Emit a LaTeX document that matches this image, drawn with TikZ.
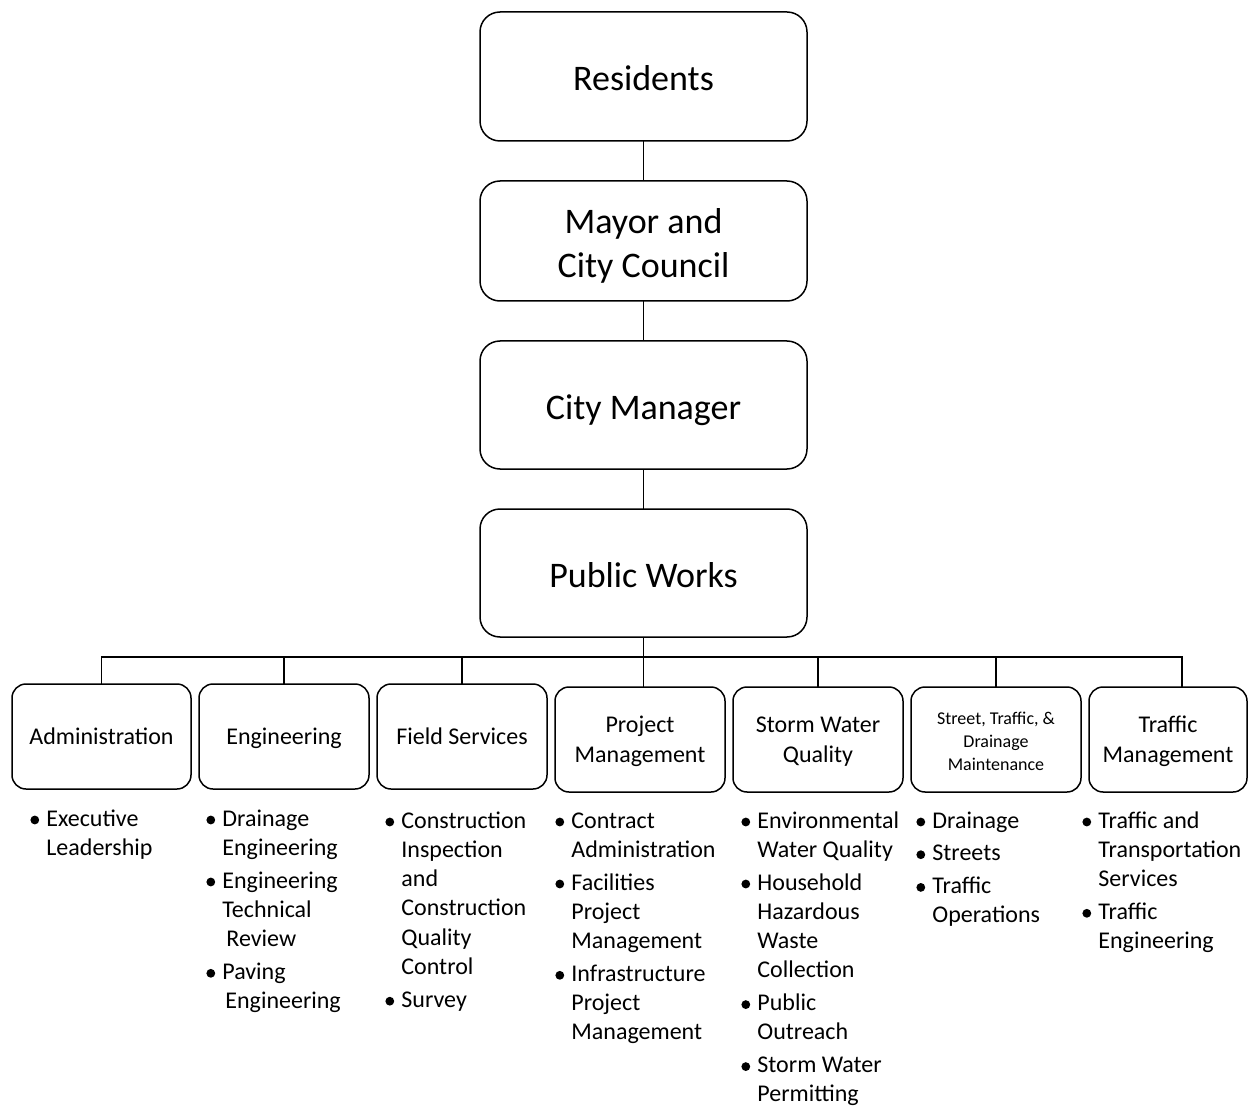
\documentclass[tikz,border=0pt]{standalone}
\usepackage{fontspec}
\setmainfont{Carlito}
\usetikzlibrary{positioning}

\newcommand{\bl}{\makebox[8pt][l]{\tikz[baseline=0pt]\fill (2.1pt,3pt) circle[radius=2.2pt];}}

\begin{document}
\begin{tikzpicture}[x=0.5pt, y=-0.5pt, node distance=20pt,
  topbox/.style={draw, line width=0.75pt, rounded corners=10pt, minimum width=163.5pt,
    text width=160pt, inner sep=0pt, outer sep=0pt, align=flush center,
    font=\fontsize{18}{22}\selectfont,
    execute at begin node={\rule{0pt}{18.5pt}},
    execute at end node={\rule[-4pt]{0pt}{4pt}}},
  unitbox/.style={draw, line width=0.75pt, rounded corners=7pt, minimum width=85pt,
    minimum height=52.5pt, text width=78pt, inner sep=0pt, outer sep=0pt, align=flush center,
    font=\fontsize{12}{14.65}\selectfont,
    execute at begin node={\rule{0pt}{10.6pt}},
    execute at end node={\rule[-2.6pt]{0pt}{2.6pt}}},
  duties/.style={anchor=base west, inner sep=0pt, font=\fontsize{12}{14.65}\selectfont},
  wire/.style={line width=0.75pt}]
  \useasboundingbox (0,0) rectangle (1248,1107);

  % chain of command
  \node[topbox, minimum height=64.5pt] (res) at (643.5,76.5) {Residents};
  \node[topbox, minimum height=60pt, below=of res] (may) {Mayor and\\City Council};
  \node[topbox, minimum height=64pt, below=of may] (cm) {City Manager};
  \node[topbox, minimum height=64pt, below=of cm] (pw) {Public Works};

  % divisions
  \node[unitbox, minimum width=89.5pt] (adm) at (101.5,736.5) {Administration};
  \node[unitbox, right=4pt of adm] (eng) {Engineering};
  \node[unitbox, right=4pt of eng] (fld) {Field Services};
  \node[unitbox, right=4pt of fld, yshift=-1.5pt] (pm) {Project\\Management};
  \node[unitbox, right=4pt of pm] (swq) {Storm Water\\Quality};
  \node[unitbox, right=4pt of swq, font=\fontsize{9}{11.5}\selectfont,
    execute at begin node={}, execute at end node={\rule[-3pt]{0pt}{3pt}}] (stm)
    {Street, Traffic, \&\\Drainage\\Maintenance};
  \node[unitbox, right=4pt of stm, minimum width=79pt] (trf) {Traffic\\Management};

  % connectors
  \coordinate[below=10pt of pw] (bus);
  \coordinate (trfdrop) at ([xshift=7pt]trf.north);
  \draw[wire] (res) -- (may);
  \draw[wire] (may) -- (cm);
  \draw[wire] (cm) -- (pw);
  \draw[wire] (pw) -- (pw |- pm.north);
  \draw[wire] (adm.north) |- (bus) -| (trfdrop);
  \foreach \u in {eng,fld,swq,stm}
    \draw[wire] (\u.north) -- (\u.north |- bus);

  % duties under each division
  \node[duties] (admlist) at (30,826) {\begin{tabular}[t]{@{}l@{}l@{}}
    \bl & Executive\\ & Leadership
  \end{tabular}};
  \node[duties] (englist) at (206,826) {\begin{tabular}[t]{@{}l@{}l@{}}
    \bl & Drainage\\ & Engineering\\[1.7pt]
    \bl & Engineering\\ & Technical\\ & \hspace{2pt}Review\\[1.7pt]
    \bl & Paving\\ & \hspace{1.5pt}Engineering
  \end{tabular}};
  \node[duties] (fldlist) at (385,828) {\begin{tabular}[t]{@{}l@{}l@{}}
    \bl & Construction\\ & Inspection\\ & and\\ & Construction\\ & Quality\\ & Control\\[1.7pt]
    \bl & Survey
  \end{tabular}};
  \node[duties] (pmlist) at (555,828) {\begin{tabular}[t]{@{}l@{}l@{}}
    \bl & Contract\\ & Administration\\[1.7pt]
    \bl & Facilities\\ & Project\\ & Management\\[1.7pt]
    \bl & Infrastructure\\ & Project\\ & Management
  \end{tabular}};
  \node[duties] (swqlist) at (741,828) {\begin{tabular}[t]{@{}l@{}l@{}}
    \bl & Environmental\\ & Water Quality\\[1.7pt]
    \bl & Household\\ & Hazardous\\ & Waste\\ & Collection\\[1.7pt]
    \bl & Public\\ & Outreach\\[1.7pt]
    \bl & Storm Water\\ & Permitting
  \end{tabular}};
  \node[duties] (stmlist) at (916,828) {\begin{tabular}[t]{@{}l@{}l@{}}
    \bl & Drainage\\[1.7pt]
    \bl & Streets\\[1.7pt]
    \bl & Traffic\\ & Operations
  \end{tabular}};
  \node[duties] (trflist) at (1082,828) {\begin{tabular}[t]{@{}l@{}l@{}}
    \bl & Traffic and\\ & Transportation\\ & Services\\[1.7pt]
    \bl & Traffic\\ & Engineering
  \end{tabular}};
\end{tikzpicture}
\end{document}
